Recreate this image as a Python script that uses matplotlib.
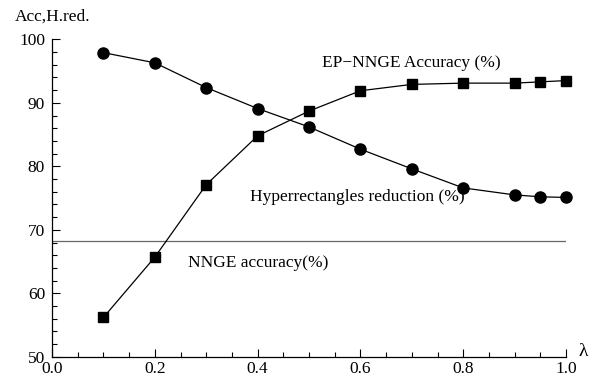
import numpy as np
import matplotlib
matplotlib.use('Agg')
import matplotlib.pyplot as plt
from matplotlib.ticker import MultipleLocator

plt.rcParams['font.family'] = ['Liberation Serif', 'DejaVu Serif']

# Дані
lam = [0.1, 0.2, 0.3, 0.4, 0.5, 0.6, 0.7, 0.8, 0.9, 0.95, 1.0]
hyper_red = [97.9, 96.3, 92.4, 89.1, 86.2, 82.7, 79.6, 76.6, 75.5, 75.2, 75.1]
ep_nnge_acc = [56.2, 65.7, 77.1, 84.8, 88.7, 91.9, 92.9, 93.1, 93.1, 93.3, 93.5]
nnge_acc = 68.3

fig = plt.figure(figsize=(5.98, 3.78), dpi=100)
ax = fig.add_axes([0.087, 0.056, 0.8595, 0.84])

ax.axhline(nnge_acc, color='#666666', lw=0.9)
ax.plot(lam, hyper_red, color='black', lw=0.9, marker='o', ms=8, clip_on=False)
ax.plot(lam, ep_nnge_acc, color='black', lw=0.9, marker='s', ms=7.5, clip_on=False)

ax.set_xlim(0, 1.0)
ax.set_ylim(50, 100)
ax.xaxis.set_major_locator(MultipleLocator(0.2))
ax.xaxis.set_minor_locator(MultipleLocator(0.05))
ax.yaxis.set_major_locator(MultipleLocator(10))
ax.yaxis.set_minor_locator(MultipleLocator(2))
ax.xaxis.set_major_formatter(plt.FuncFormatter(lambda v, p: f'{v:.1f}'))

for s in ['top', 'right']:
    ax.spines[s].set_visible(False)
for s in ['left', 'bottom']:
    ax.spines[s].set_linewidth(0.9)
ax.tick_params(which='both', direction='in', labelsize=12.5, width=0.8)
ax.tick_params(which='major', length=6)
ax.tick_params(which='minor', length=3.5)
ax.tick_params(axis='x', pad=3)
ax.tick_params(axis='y', pad=5)

# Підписи кривих
ax.text(0.525, 96.3, 'EP\u2212NNGE Accuracy (%)', fontsize=12.5, va='center')
ax.text(0.385, 75.2, 'Hyperrectangles reduction (%)', fontsize=12.5, va='center')
ax.text(0.265, 64.8, 'NNGE accuracy(%)', fontsize=12.5, va='center')
fig.text(0.025, 0.955, 'Acc,H.red.', fontsize=12.5, va='center')
fig.text(0.975, 0.069, '\u03bb', fontsize=14, va='center', ha='center')

fig.savefig('out.png', dpi=100)
